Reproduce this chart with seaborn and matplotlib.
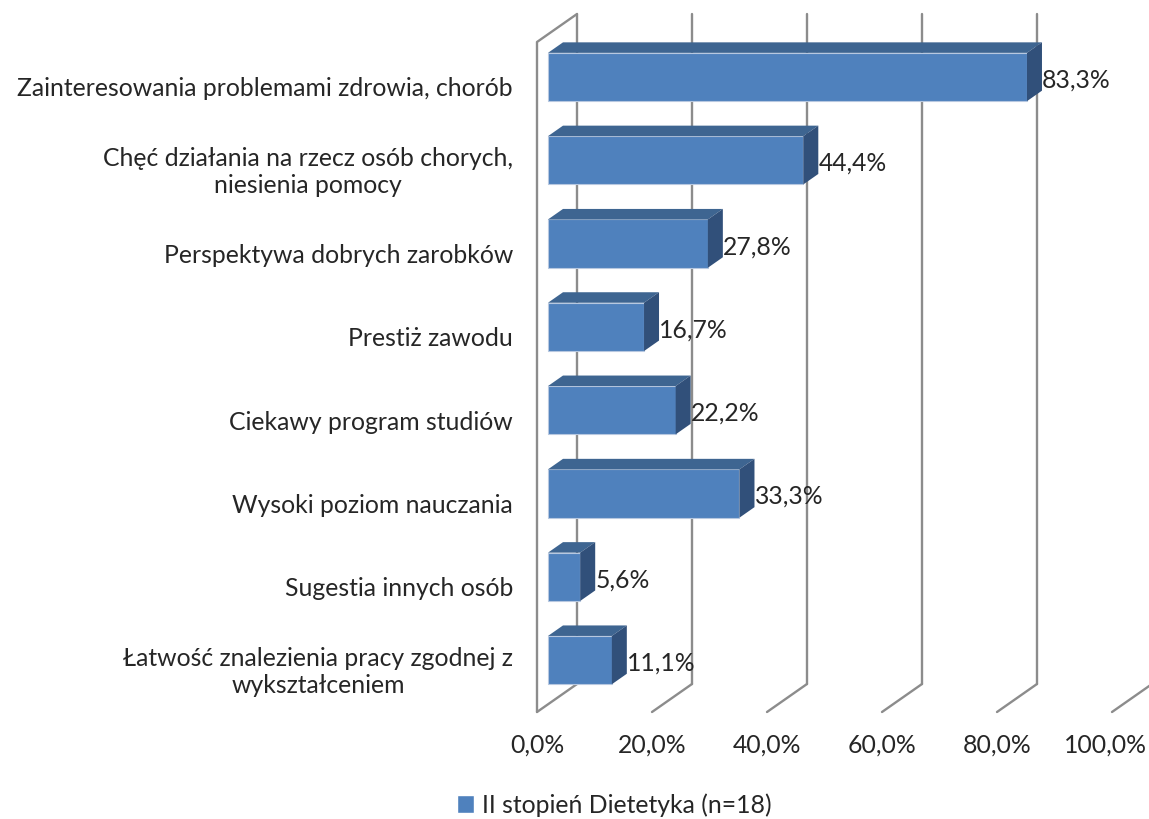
import matplotlib
matplotlib.use("Agg")
from matplotlib import pyplot as plt
from matplotlib.patches import Polygon, Patch
import seaborn as sns
import pandas as pd

# Dataset
categories = [
    "Zainteresowania problemami zdrowia, chorób",
    "Chęć działania na rzecz osób chorych,\nniesienia pomocy",
    "Perspektywa dobrych zarobków",
    "Prestiż zawodu",
    "Ciekawy program studiów",
    "Wysoki poziom nauczania",
    "Sugestia innych osób",
    "Łatwość znalezienia pracy zgodnej z\nwykształceniem",
]
values = [83.3, 44.4, 27.8, 16.7, 22.2, 33.3, 5.6, 11.1]
value_labels = ["83,3%", "44,4%", "27,8%", "16,7%", "22,2%", "33,3%", "5,6%", "11,1%"]
xticks = [0, 20, 40, 60, 80, 100]
xtick_labels = ["0,0%", "20,0%", "40,0%", "60,0%", "80,0%", "100,0%"]
series_name = "II stopień Dietetyka (n=18)"

df = pd.DataFrame({"kategoria": categories, "procent": values})

sns.set_style("white")
plt.rcParams["font.family"] = ["Lato", "DejaVu Sans"]
FS = 17.8

W, H = 1149, 819
fig = plt.figure(figsize=(W / 100, H / 100), dpi=100)

# axes placed in pixel space: value 0 of the bar front face sits at x=548px
ax_l, ax_r, ax_t, ax_b = 530, 1149, 0, 720
ax = fig.add_axes([ax_l / W, 1 - ax_b / H, (ax_r - ax_l) / W, (ax_b - ax_t) / H])
PX_X = 5.75   # pixels per percent
PX_Y = 83.3   # pixels per category
X0, Y0 = 548, 77
ax.set_xlim((ax_l - X0) / PX_X, (ax_r - X0) / PX_X)

blue = "#4F81BD"
top_c = "#3E6591"
side_c = "#31507A"
grid_c = "#8C8C8C"

sns.barplot(data=df, y="kategoria", x="procent", orient="h", color=blue,
            width=0.58, saturation=1, ax=ax, zorder=3,
            edgecolor="#B7C8E0", linewidth=0.8)
ax.set_ylim((ax_b - Y0) / PX_Y, (ax_t - Y0) / PX_Y)


def shift(x, y, d):
    # oblique depth offset, d in pixels along x
    return x + d / PX_X, y - 0.7 * d / PX_Y


floor = (712 - 7.7 - Y0) / PX_Y
ceil = (42 - 7.7 - Y0) / PX_Y
D_FRONT, D_BACK = -11, 29

# back wall gridlines and floor lines
for v, tl in zip(xticks, xtick_labels):
    xb, yb = shift(v, floor, D_BACK)
    xt, yt = shift(v, ceil, D_BACK)
    ax.plot([xb, xt], [yb, yt], color=grid_c, lw=1.7, zorder=1, clip_on=False)
    xf, yf = shift(v, floor, D_FRONT)
    ax.plot([xf, xb], [yf, yb], color=grid_c, lw=1.7, zorder=1, clip_on=False)
    if v == xticks[-1]:
        # keep the last label inside the picture
        ax.text((1147 - X0) / PX_X, (745 - Y0) / PX_Y, tl, ha="right",
                va="center", fontsize=FS, clip_on=False)
    else:
        ax.text(xf, (745 - Y0) / PX_Y, tl, ha="center",
                va="center", fontsize=FS, clip_on=False)

# left wall
xf, yf = shift(0, floor, D_FRONT)
xc, yc = shift(0, ceil, D_FRONT)
xcb, ycb = shift(0, ceil, D_BACK)
ax.plot([xf, xc, xcb], [yf, yc, ycb], color=grid_c, lw=1.7, zorder=1, clip_on=False)

# 3d faces of the bars
DB = 15
for p, lab in zip(ax.patches, value_labels):
    x0, w = p.get_x(), p.get_width()
    y_top, h = p.get_y(), p.get_height()
    x1 = x0 + w
    a = shift(x0, y_top, DB)
    b = shift(x1, y_top, DB)
    c = shift(x1, y_top + h, DB)
    ax.add_patch(Polygon([(x0, y_top), (x1, y_top), b, a], closed=True,
                         facecolor=top_c, edgecolor="none", zorder=3))
    ax.add_patch(Polygon([(x1, y_top), b, c, (x1, y_top + h)], closed=True,
                         facecolor=side_c, edgecolor="none", zorder=3))
    ax.text(b[0], y_top + h / 2 + 3 / PX_Y, lab, ha="left", va="center",
            fontsize=FS, zorder=4)

# category labels
for i, cat in enumerate(categories):
    ax.text((513 - X0) / PX_X, i + 12 / PX_Y, cat, ha="right", va="center",
            multialignment="center", fontsize=FS, clip_on=False, linespacing=1.2)

ax.set_yticks([])
ax.set_xticks([])
ax.set_xlabel("")
ax.set_ylabel("")
sns.despine(ax=ax, left=True, bottom=True)

fig.legend(handles=[Patch(facecolor=blue, label=series_name)], loc="center",
           bbox_to_anchor=(614 / W, 1 - 805 / H), frameon=False, fontsize=FS,
           handlelength=0.7, handleheight=0.7, handletextpad=0.3)

fig.savefig("out.png", dpi=100)
